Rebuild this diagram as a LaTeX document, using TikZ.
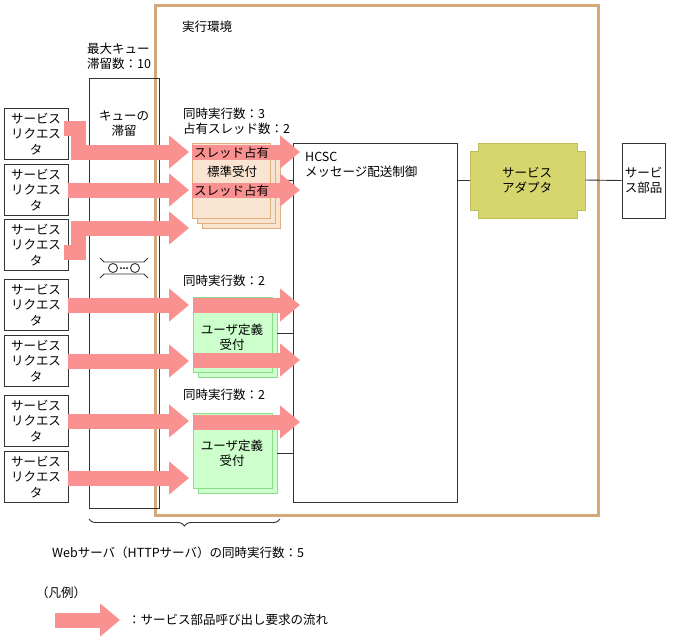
\documentclass[tikz,border=0pt]{standalone}
\usepackage{fontspec}
\setmainfont{Noto Sans CJK JP}
\usetikzlibrary{arrows.meta,decorations.pathreplacing}
\definecolor{tan}{RGB}{212,168,120}
\definecolor{pinkA}{RGB}{250,145,145}
\definecolor{tanfill}{RGB}{248,228,208}
\definecolor{tanline}{RGB}{222,175,125}
\definecolor{grfill}{RGB}{204,255,204}
\definecolor{grline}{RGB}{140,220,140}
\definecolor{adfill}{RGB}{214,214,110}
\definecolor{adline}{RGB}{190,190,90}
\begin{document}
\begin{tikzpicture}[x=1pt,y=-1pt,font=\fontsize{12.5}{15}\selectfont,
  box/.style={draw=black!80,line width=0.9pt},
  req/.style={box,minimum width=64pt,minimum height=51pt,inner sep=0pt,align=center,font=\fontsize{12.5}{15.5}\selectfont},
  flow/.style={pinkA,line width=15pt,-{Triangle[length=20pt 0 0,width=32pt 0 0]}},
  lbl/.style={anchor=west,inner sep=0pt}]
\useasboundingbox (0,0) rectangle (675,641);
% main env
\draw[tan,line width=3pt] (155,5) rectangle (598,515);
\node[lbl] (env) at (182,27) {実行環境};
\node[lbl,align=left] (maxq) at (87,56) {最大キュー\\滞留数：10};
% queue column
\draw[box] (89,78) rectangle (159,508);
\node[align=center] (q) at (124,124) {キューの\\滞留};
% queue symbol
\begin{scope}[shift={(124,268)},draw=black!80,line width=0.9pt]
\draw (-24,-10) -- (-20,-6) -- (20,-6) -- (24,-10);
\draw (-24,10) -- (-20,6) -- (20,6) -- (24,10);
\draw (-11,0) circle (4.5); \draw (11,0) circle (4.5);
\fill (-3,0) circle (1); \fill (0,0) circle (1); \fill (3,0) circle (1);
\end{scope}
% requesters
\foreach \i/\y in {1/134,2/190,3/245,4/305,5/361,6/421,7/477}{
  \node[req] (r\i) at (36,\y) {サービス\\リクエス\\タ};}
% HCSC
\draw[box] (293,143) rectangle (457,502);
\node[lbl,align=left] (hcsc) at (305,165) {HCSC\\メッセージ配送制御};
% adapter
\draw[adline,fill=adfill,line width=0.9pt] (478,143) -- (577,143) -- (577,151) -- (585,151) -- (585,210) -- (577,210) -- (577,218) -- (478,218) -- (478,210) -- (470,210) -- (470,151) -- (478,151) -- cycle;
\node[align=center] (ad) at (527,180) {サービス\\アダプタ};
\node[box,minimum width=43pt,minimum height=75pt,align=center,inner sep=0pt] (part) at (643.5,180.5) {サービ\\ス部品};
\draw[black!80,line width=0.9pt] (457,180) -- (470,180);
\draw[black!80,line width=0.9pt] (585,180) -- (part.west);
% standard receiver stack
\foreach \d in {10,5}{\draw[tanline,fill=tanfill,line width=0.9pt] (192+\d,143+\d) rectangle (270+\d,218+\d);}
\draw[tanline,fill=tanfill,line width=0.9pt] (192,143) rectangle (270,218);
\draw[black!80,line width=0.9pt] (280,180) -- (293,180);
\node[lbl,align=left] (c1) at (183,121) {同時実行数：3\\占有スレッド数：2};
% green stacks
\foreach \yy in {297,413}{
  \draw[grline,fill=grfill,line width=0.9pt] (198,\yy+5) rectangle (277,\yy+80);
  \draw[grline,fill=grfill,line width=0.9pt] (193,\yy) rectangle (272,\yy+75);
  \node[align=center] at (232,\yy+40) {ユーザ定義\\受付};
}
\draw[black!80,line width=0.9pt] (277,333) -- (293,333);
\draw[black!80,line width=0.9pt] (277,453) -- (293,453);
\node[lbl] (c2) at (183,281) {同時実行数：2};
\node[lbl] (c3) at (183,395) {同時実行数：2};
% flows
\draw[flow] (64,128) -- (78,128) -- (78,152) -- (189,152);
\draw[flow] (r2.east) -- (189,190);
\draw[flow] (64,252) -- (78,252) -- (78,228) -- (189,228);
\draw[flow] (192,152) -- (300,152);
\draw[flow] (192,190) -- (300,190);
\node[lbl] at (194,153) {スレッド占有};
\node[lbl] at (207,172) {標準受付};
\node[lbl] at (194,191) {スレッド占有};
\draw[flow] (68,305) -- (189,305);
\draw[flow] (68,361) -- (189,361);
\draw[flow] (68,421) -- (189,421);
\draw[flow] (68,478) -- (189,478);
\draw[flow] (193,305) -- (300,305);
\draw[flow] (193,360) -- (300,360);
\draw[flow] (193,422) -- (300,422);
% brace
\draw[black!80,line width=0.9pt,decorate,decoration={brace,mirror,amplitude=7pt}] (89,519) -- (280,519);
\node[lbl] (web) at (52,553) {Webサーバ（HTTPサーバ）の同時実行数：5};
% legend
\node[lbl] (leg) at (36,593) {（凡例）};
\coordinate (la) at (55,620); \coordinate (lb) at (120,620);
\draw[flow] (la) -- (lb);
\node[lbl] (legt) at (128,620) {：サービス部品呼び出し要求の流れ};
\end{tikzpicture}
\end{document}
